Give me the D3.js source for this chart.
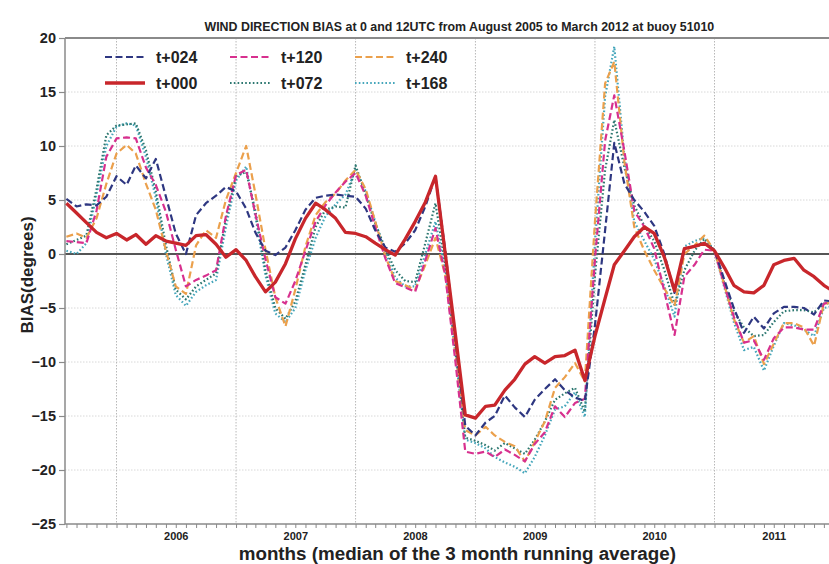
<!DOCTYPE html>
<html>
<head>
<meta charset="utf-8">
<script src="https://cdn.jsdelivr.net/npm/d3@7"></script>
<style>
body { margin: 0; background: #fff; }
svg { display: block; }
text { font-family: "Liberation Sans", Arial, sans-serif; font-weight: bold; fill: #222; }
</style>
</head>
<body>
<svg id="chart"></svg>
<script>
// months Aug 2005 .. Jan 2012 (the right part is cut off by the picture edge)
var months = d3.timeMonth.range(new Date(2005, 7, 1), new Date(2012, 1, 1))
var years = [2006, 2007, 2008, 2009, 2010, 2011]
var y_ticks = [20, 15, 10, 5, 0, -5, -10, -15, -20, -25]

var t000 = [4.7, 3.8, 2.9, 2.0, 1.5, 1.9, 1.3, 1.8, 0.9, 1.7, 1.2, 1.0, 0.8, 1.7, 1.8, 0.9, -0.3, 0.4, -0.6, -2.1,
	-3.5, -2.6, -0.9, 1.4, 3.3, 4.7, 4.1, 3.3, 2.0, 1.9, 1.6, 1.0, 0.4, -0.1, 1.4, 3.0, 4.8, 7.2, 0.0, -7.5,
	-14.9, -15.2, -14.1, -14.0, -12.6, -11.6, -10.2, -9.5, -10.1, -9.5, -9.4, -8.9, -11.7, -7.6, -4.1, -1.0, 0.3, 1.6, 2.5, 1.9,
	-0.3, -3.4, 0.5, 0.7, 1.0, 0.3, -1.3, -2.9, -3.5, -3.6, -2.9, -1.0, -0.6, -0.4, -1.5, -2.1, -2.9, -3.5]
var t024 = [5.1, 4.4, 4.6, 4.5, 5.3, 7.2, 6.4, 8.2, 7.0, 8.8, 5.3, 1.9, 0.0, 3.6, 4.7, 5.4, 6.2, 5.8, 4.2, 2.0,
	0.3, -0.1, 0.6, 2.2, 4.1, 5.2, 5.4, 5.5, 5.4, 5.3, 4.2, 2.2, 0.6, 0.2, 1.0, 2.2, 4.4, 7.2, 0.3, -8.0,
	-15.9, -16.8, -15.6, -15.0, -13.1, -14.2, -15.1, -13.5, -12.5, -11.6, -12.6, -13.3, -13.6, -6.6, 2.2, 10.3, 6.5, 5.0, 3.9, 2.6,
	0.0, -3.6, 0.5, 0.7, 1.0, 0.4, -2.5, -5.0, -7.3, -5.8, -6.9, -5.5, -4.9, -4.9, -5.0, -5.6, -4.3, -4.4]
var t072 = [0.9, 1.3, 1.7, 6.0, 11.0, 11.9, 12.0, 12.1, 9.6, 5.8, 0.8, -3.3, -4.2, -3.0, -2.4, -1.8, 3.2, 7.2, 7.6, 4.0,
	-1.5, -5.0, -6.0, -4.4, -1.0, 2.5, 4.1, 4.4, 4.3, 8.2, 5.5, 2.8, 0.5, -1.5, -2.5, -2.6, 1.0, 4.7, -1.0, -9.0,
	-17.0, -17.3, -17.7, -18.2, -17.5, -18.0, -18.5, -17.2, -15.5, -13.5, -12.9, -12.4, -14.6, -2.0, 7.8, 12.4, 8.0, 4.5, 2.6, 1.2,
	-1.5, -4.7, -1.5, 0.3, 1.4, 0.3, -2.8, -5.3, -6.8, -7.6, -7.5, -6.3, -5.3, -5.2, -5.2, -5.4, -4.6, -4.5]
var t120 = [1.2, 1.1, 1.0, 4.0, 9.0, 10.7, 10.8, 10.7, 8.0, 6.4, 3.9, 0.4, -3.0, -2.4, -2.0, -1.5, 3.5, 7.3, 7.8, 3.7,
	-0.5, -4.0, -4.6, -2.5, 0.3, 3.0, 4.5, 5.7, 6.7, 7.5, 5.4, 2.5, -0.4, -2.7, -3.1, -3.5, -0.6, 2.4, -2.0, -10.0,
	-18.3, -18.5, -18.3, -18.8, -18.1, -18.6, -19.2, -17.6, -16.5, -14.1, -15.1, -13.8, -13.4, -0.5, 10.5, 14.7, 9.5, 4.0, 2.5, 0.5,
	-3.5, -7.5, -2.1, -1.0, 0.4, 0.3, -3.0, -5.8, -8.2, -8.0, -9.8, -7.8, -6.8, -6.8, -7.0, -7.0, -4.6, -4.3]
var t168 = [0.3, 0.0, 1.0, 5.5, 10.0, 11.8, 12.1, 11.9, 9.0, 5.2, 0.0, -3.8, -4.8, -3.5, -2.9, -2.4, 2.5, 6.8, 8.1, 3.5,
	-2.0, -5.5, -6.3, -5.0, -1.5, 1.5, 3.5, 4.6, 5.5, 7.8, 5.8, 3.0, 0.2, -2.2, -3.0, -3.0, 0.0, 3.0, -1.5, -9.3,
	-17.2, -17.5, -18.0, -18.8, -19.3, -19.7, -20.3, -18.8, -16.8, -14.4, -14.1, -12.8, -15.1, 1.0, 14.6, 19.2, 9.0, 3.0, 1.2, -0.5,
	-3.0, -5.8, 0.7, 1.2, 1.5, 0.3, -3.2, -6.3, -8.9, -8.6, -10.8, -8.5, -6.4, -6.6, -7.0, -7.6, -5.0, -4.8]
var t240 = [1.6, 1.9, 1.5, 3.3, 6.5, 9.3, 10.1, 9.3, 6.5, 4.1, 0.3, -3.0, -3.7, 0.8, 2.2, 1.5, 5.0, 7.5, 10.0, 5.6,
	0.4, -4.0, -6.7, -3.3, 0.7, 3.6, 4.8, 5.6, 6.8, 7.8, 6.0, 3.0, -0.2, -2.5, -2.9, -3.3, -1.0, 1.5, -2.0, -9.2,
	-16.3, -16.8, -16.0, -16.8, -17.4, -17.8, -19.2, -17.4, -15.5, -12.4, -11.4, -10.1, -11.8, 3.0, 15.8, 17.8, 8.5, 2.5, 0.3, -1.5,
	-3.2, -4.8, 0.0, 0.8, 1.7, 0.3, -3.0, -6.0, -8.2, -7.6, -10.2, -8.3, -6.4, -6.4, -6.8, -8.5, -4.6, -4.5]

// drawing order: dotted first, red solid on top
var series = [
	{ name: "t+168", values: t168, color: "#45a6bb", dash: "1.6,2.2", width: 2.2, col: 2, row: 1 },
	{ name: "t+072", values: t072, color: "#2c7770", dash: "1.6,2.2", width: 2.2, col: 1, row: 1 },
	{ name: "t+240", values: t240, color: "#eba04c", dash: "7,3.5", width: 2.2, col: 2, row: 0 },
	{ name: "t+120", values: t120, color: "#d7308e", dash: "7,3.5", width: 2.2, col: 1, row: 0 },
	{ name: "t+024", values: t024, color: "#2e3781", dash: "7,3.5", width: 2.2, col: 0, row: 0 },
	{ name: "t+000", values: t000, color: "#c8262b", dash: null, width: 3.3, col: 0, row: 1 }
]

var width = 829
var height = 564
var plot_left = 65
var plot_top = 38
var plot_bottom = 524

var x = d3.scaleTime()
	.domain([new Date(2006, 0, 1), new Date(2011, 0, 1)])
	.range([116.5, 714.5])
var plot_right = x(new Date(2012, 2, 1))
var plot_mid = (plot_left + plot_right) / 2

var y = d3.scaleLinear()
	.domain([-25, 20])
	.range([plot_bottom, plot_top])

var svg = d3.select("#chart")
	.attr("width", width)
	.attr("height", height)

svg.append("defs").append("clipPath")
	.attr("id", "plot_clip")
	.append("rect")
	.attr("x", plot_left)
	.attr("y", plot_top)
	.attr("width", plot_right - plot_left)
	.attr("height", plot_bottom - plot_top)

// title
svg.append("text")
	.attr("x", plot_mid)
	.attr("y", 31)
	.attr("text-anchor", "middle")
	.style("font-size", "12.4px")
	.text("WIND DIRECTION BIAS at 0 and 12UTC from August 2005 to March 2012 at buoy 51010")

// horizontal grid
svg.append("g")
	.selectAll("line")
	.data(y_ticks.filter(function(d) { return d != 0 && d != 20 && d != -25 }))
	.enter().append("line")
	.attr("x1", plot_left)
	.attr("x2", plot_right)
	.attr("y1", function(d) { return y(d) })
	.attr("y2", function(d) { return y(d) })
	.attr("stroke", "#d8d8d8")
	.attr("stroke-width", 1)
	.attr("stroke-dasharray", "1.5,1.5")

// vertical grid at year starts
svg.append("g")
	.selectAll("line")
	.data(years)
	.enter().append("line")
	.attr("x1", function(d) { return x(new Date(d, 0, 1)) })
	.attr("x2", function(d) { return x(new Date(d, 0, 1)) })
	.attr("y1", plot_top)
	.attr("y2", plot_bottom)
	.attr("stroke", "#b8b8b8")
	.attr("stroke-width", 1)
	.attr("stroke-dasharray", "1.5,1.5")

// zero line
svg.append("line")
	.attr("x1", plot_left)
	.attr("x2", plot_right)
	.attr("y1", y(0))
	.attr("y2", y(0))
	.attr("stroke", "#555")
	.attr("stroke-width", 2)

// frame
svg.append("line")
	.attr("x1", plot_left).attr("x2", plot_right)
	.attr("y1", plot_top).attr("y2", plot_top)
	.attr("stroke", "#8a8a8a").attr("stroke-width", 2)
svg.append("line")
	.attr("x1", plot_left).attr("x2", plot_right)
	.attr("y1", plot_bottom).attr("y2", plot_bottom)
	.attr("stroke", "#8a8a8a").attr("stroke-width", 1.5)
svg.append("line")
	.attr("x1", plot_left).attr("x2", plot_left)
	.attr("y1", plot_top).attr("y2", plot_bottom)
	.attr("stroke", "#8a8a8a").attr("stroke-width", 1.5)

// monthly ticks on the bottom axis
var x_axis = svg.append("g")
	.attr("transform", "translate(0," + plot_bottom + ")")
	.call(d3.axisBottom(x)
		.tickValues(d3.timeMonth.range(new Date(2005, 7, 1), new Date(2012, 2, 2)))
		.tickFormat("")
		.tickSizeInner(4)
		.tickSizeOuter(0))
x_axis.select(".domain").remove()
x_axis.selectAll(".tick line").attr("stroke", "#8a8a8a")

// year labels, centred in each year
svg.append("g")
	.selectAll("text")
	.data(years)
	.enter().append("text")
	.attr("x", function(d) { return (x(new Date(d, 0, 1)) + x(new Date(d + 1, 0, 1))) / 2 })
	.attr("y", 539.5)
	.attr("text-anchor", "middle")
	.style("font-size", "11px")
	.text(function(d) { return d })

svg.append("text")
	.attr("x", plot_mid - 2)
	.attr("y", 560)
	.attr("text-anchor", "middle")
	.style("font-size", "18.8px")
	.text("months (median of the 3 month running average)")

// y axis
var y_axis = svg.append("g")
	.attr("transform", "translate(" + plot_left + ",0)")
	.call(d3.axisLeft(y)
		.tickValues(y_ticks)
		.tickSizeInner(6)
		.tickSizeOuter(0)
		.tickPadding(3))
y_axis.select(".domain").remove()
y_axis.selectAll(".tick line").attr("stroke", "#8a8a8a").attr("stroke-width", 1.2)
y_axis.selectAll(".tick text")
	.style("font-size", "14.5px")
	.style("font-family", "'Liberation Sans', Arial, sans-serif")
	.style("font-weight", "bold")
	.attr("fill", "#222")

svg.append("text")
	.attr("transform", "translate(33," + ((plot_top + plot_bottom) / 2 - 6) + ") rotate(-90)")
	.attr("text-anchor", "middle")
	.style("font-size", "17px")
	.text("BIAS(degrees)")

// lines
var line = d3.line()
	.x(function(d, i) { return x(months[i]) })
	.y(function(d) { return y(d) })

var lines_g = svg.append("g").attr("clip-path", "url(#plot_clip)")

lines_g.selectAll("path")
	.data(series)
	.enter().append("path")
	.attr("d", function(s) { return line(s.values) })
	.attr("fill", "none")
	.attr("stroke", function(s) { return s.color })
	.attr("stroke-width", function(s) { return s.width })
	.attr("stroke-dasharray", function(s) { return s.dash })
	.attr("stroke-linejoin", "round")

// legend
var legend_cols = [105, 230, 355]
var legend_rows = [57, 83]

var legend = svg.append("g")
	.selectAll("g")
	.data(series)
	.enter().append("g")
	.attr("transform", function(s) { return "translate(" + legend_cols[s.col] + "," + legend_rows[s.row] + ")" })

legend.append("line")
	.attr("x1", 0)
	.attr("x2", 40)
	.attr("stroke", function(s) { return s.color })
	.attr("stroke-width", function(s) { return s.width })
	.attr("stroke-dasharray", function(s) { return s.dash })

legend.append("text")
	.attr("x", 51)
	.attr("y", 6)
	.style("font-size", "16px")
	.text(function(s) { return s.name })
</script>
</body>
</html>
